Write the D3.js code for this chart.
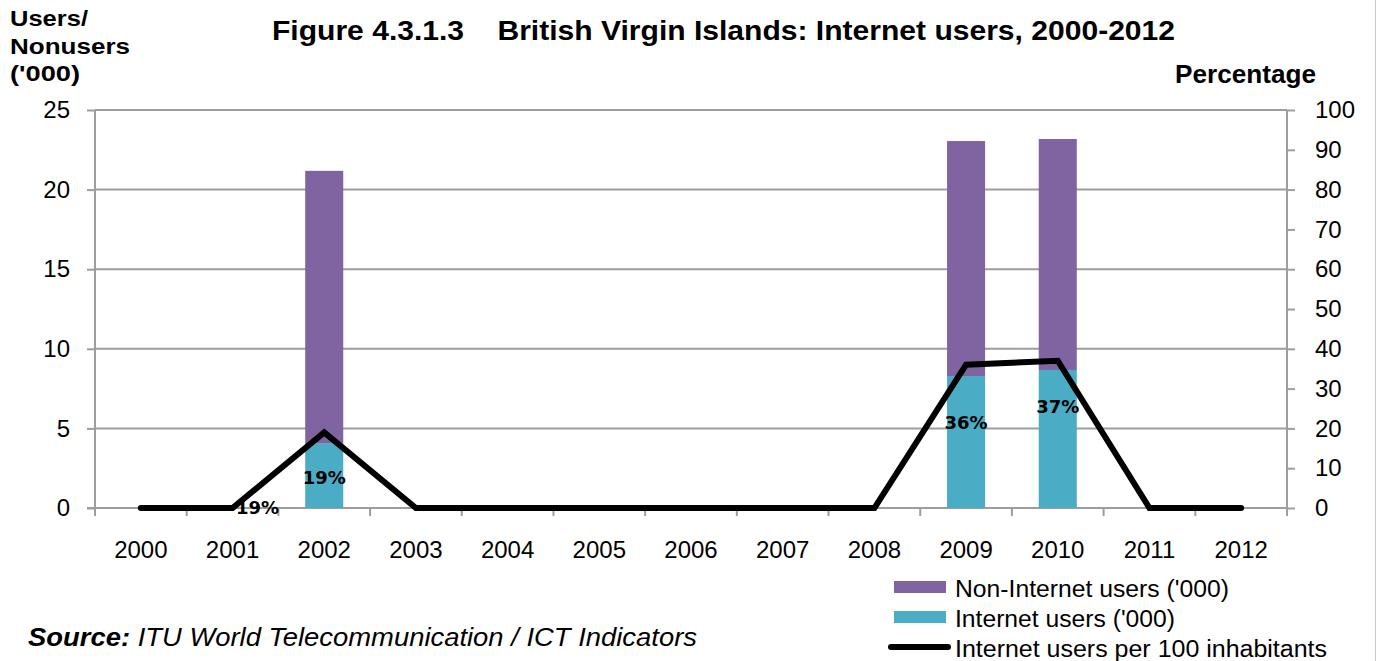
<!DOCTYPE html>
<html>
<head>
<meta charset="utf-8">
<script src="https://cdn.jsdelivr.net/npm/d3@7"></script>
<style>
  html, body { margin: 0; padding: 0; background: #fff; }
  svg { display: block; }
  text { font-family: "Liberation Sans", Arial, sans-serif; fill: #000; }
</style>
</head>
<body>
<svg id="chart" width="1377" height="661"></svg>
<script>
// ---- data ----
const years = ["2000","2001","2002","2003","2004","2005","2006","2007","2008","2009","2010","2011","2012"];
const internetUsers = [null, null, 4.08, null, null, null, null, null, null, 8.29, 8.67, null, null];
const nonInternetUsers = [null, null, 17.1, null, null, null, null, null, null, 14.76, 14.51, null, null];
const usersPer100 = [0, 0, 19, 0, 0, 0, 0, 0, 0, 36, 37, 0, 0];
const leftTicks = [0, 5, 10, 15, 20, 25];
const rightTicks = [0, 10, 20, 30, 40, 50, 60, 70, 80, 90, 100];
// data labels: year, text, vertical anchor (in '000 units)
const labelYears = ["2001", "2002", "2009", "2010"];
const labelTexts = ["19%", "19%", "36%", "37%"];
const labelAt = [0, 1.9, 5.35, 6.35];

const titleText = "Figure 4.3.1.3    British Virgin Islands: Internet users, 2000-2012";
const leftTitleLines = ["Users/", "Nonusers", "('000)"];
const legendLabels = ["Non-Internet users ('000)", "Internet users ('000)", "Internet users per 100 inhabitants"];
const colors = { non: "#8064A2", internet: "#4BACC6", line: "#000", grid: "#9d9d9d" };

// ---- layout ----
const svg = d3.select("#chart");
const plot = { left: 95, right: 1287, top: 110, bottom: 508 };

const x = d3.scaleBand().domain(years).range([plot.left, plot.right]).padding(0);
const barW = x.bandwidth() * 0.415;
const yL = d3.scaleLinear().domain([0, 25]).range([plot.bottom, plot.top]);
const yR = d3.scaleLinear().domain([0, 100]).range([plot.bottom, plot.top]);
const cx = d => x(d) + x.bandwidth() / 2;

// gridlines
svg.append("g").selectAll("line").data(leftTicks.filter(t => t > 0)).join("line")
  .attr("x1", plot.left).attr("x2", plot.right)
  .attr("y1", d => yL(d)).attr("y2", d => yL(d))
  .attr("stroke", colors.grid).attr("stroke-width", 2);

// left axis
const gL = svg.append("g").attr("transform", `translate(${plot.left},0)`)
  .call(d3.axisLeft(yL).tickValues(leftTicks).tickSize(8).tickPadding(17).tickFormat(d3.format("d")));
gL.select(".domain").attr("stroke", colors.grid).attr("stroke-width", 2).attr("d", `M0,${plot.top}V${plot.bottom}`);
gL.selectAll(".tick line").attr("stroke", colors.grid).attr("stroke-width", 2);
gL.selectAll(".tick text").attr("font-size", 24).attr("font-family", "Liberation Sans, Arial, sans-serif").attr("fill", "#000");

// right axis
const gR = svg.append("g").attr("transform", `translate(${plot.right},0)`)
  .call(d3.axisRight(yR).tickValues(rightTicks).tickSize(8).tickPadding(20).tickFormat(d3.format("d")));
gR.select(".domain").attr("stroke", colors.grid).attr("stroke-width", 2).attr("d", `M0,${plot.top}V${plot.bottom}`);
gR.selectAll(".tick line").attr("stroke", colors.grid).attr("stroke-width", 2);
gR.selectAll(".tick text").attr("font-size", 24).attr("font-family", "Liberation Sans, Arial, sans-serif").attr("fill", "#000");

// bottom axis
const gB = svg.append("g").attr("transform", `translate(0,${plot.bottom})`)
  .call(d3.axisBottom(x).tickSize(0).tickPadding(33));
gB.select(".domain").remove();
gB.selectAll(".tick text").attr("font-size", 24).attr("font-family", "Liberation Sans, Arial, sans-serif").attr("fill", "#000");
svg.append("line").attr("x1", plot.left - 8).attr("x2", plot.right)
  .attr("y1", plot.bottom).attr("y2", plot.bottom)
  .attr("stroke", colors.grid).attr("stroke-width", 2);
svg.append("g").selectAll("line").data(years.concat(["end"])).join("line")
  .attr("x1", (d, i) => plot.left + i * x.step()).attr("x2", (d, i) => plot.left + i * x.step())
  .attr("y1", plot.bottom).attr("y2", plot.bottom + 8)
  .attr("stroke", colors.grid).attr("stroke-width", 2);

// bars
const barData = years.map((yr, i) => ({ yr, inet: internetUsers[i], non: nonInternetUsers[i] })).filter(d => d.inet != null);
svg.append("g").selectAll("rect.inet").data(barData).join("rect")
  .attr("x", d => cx(d.yr) - barW / 2).attr("width", barW)
  .attr("y", d => yL(d.inet)).attr("height", d => yL(0) - yL(d.inet))
  .attr("fill", colors.internet);
svg.append("g").selectAll("rect.non").data(barData).join("rect")
  .attr("x", d => cx(d.yr) - barW / 2).attr("width", barW)
  .attr("y", d => yL(d.inet + d.non)).attr("height", d => yL(d.inet) - yL(d.inet + d.non))
  .attr("fill", colors.non);

// line
const line = d3.line().x((d, i) => cx(years[i])).y(d => yR(d));
svg.append("path").datum(usersPer100).attr("d", line)
  .attr("fill", "none").attr("stroke", colors.line).attr("stroke-width", 6)
  .attr("stroke-linejoin", "miter").attr("stroke-linecap", "round");

// data labels
svg.append("g").selectAll("text").data(labelYears).join("text")
  .attr("x", (d, i) => cx(d) + (i === 0 ? 25 : 0))
  .attr("y", (d, i) => yL(labelAt[i]))
  .attr("dy", "0.36em")
  .attr("text-anchor", "middle")
  .style("font-family", "'DejaVu Sans', sans-serif").attr("font-weight", "bold").attr("font-size", 18)
  .text((d, i) => labelTexts[i]);

// titles
svg.append("text").attr("x", 272).attr("y", 40).attr("font-size", 27).attr("font-weight", "bold")
  .attr("textLength", 903).attr("lengthAdjust", "spacingAndGlyphs")
  .style("white-space", "pre").text(titleText);
const leftTitleWidths = [78, 120, 70];
svg.append("g").selectAll("text").data(leftTitleLines).join("text")
  .attr("x", 10).attr("y", (d, i) => 26 + i * 27.5)
  .attr("font-size", 22).attr("font-weight", "bold")
  .attr("textLength", (d, i) => leftTitleWidths[i]).attr("lengthAdjust", "spacingAndGlyphs")
  .text(d => d);
svg.append("text").attr("x", 1316).attr("y", 83).attr("font-size", 25).attr("font-weight", "bold").attr("text-anchor", "end")
  .attr("textLength", 141).attr("lengthAdjust", "spacingAndGlyphs").text("Percentage");

// source
const src = svg.append("text").attr("x", 28).attr("y", 646).attr("font-size", 25).attr("font-style", "italic")
  .attr("textLength", 669).attr("lengthAdjust", "spacingAndGlyphs");
src.append("tspan").attr("font-weight", "bold").text("Source:");
src.append("tspan").text(" ITU World Telecommunication / ICT Indicators");

// legend
const legendWidths = [274, 220, 372];
const lg = svg.append("g");
lg.append("rect").attr("x", 894).attr("y", 581).attr("width", 52).attr("height", 12).attr("fill", colors.non);
lg.append("rect").attr("x", 894).attr("y", 611).attr("width", 52).attr("height", 12).attr("fill", colors.internet);
lg.append("line").attr("x1", 891).attr("x2", 948).attr("y1", 647).attr("y2", 647)
  .attr("stroke", colors.line).attr("stroke-width", 6).attr("stroke-linecap", "round");
lg.selectAll("text").data(legendLabels).join("text")
  .attr("x", 955).attr("y", (d, i) => 597 + i * 30).attr("font-size", 23)
  .attr("textLength", (d, i) => legendWidths[i]).attr("lengthAdjust", "spacingAndGlyphs")
  .text(d => d);

// right border
svg.append("line").attr("x1", 1375.5).attr("x2", 1375.5).attr("y1", 0).attr("y2", 661)
  .attr("stroke", "#c8c8c8").attr("stroke-width", 1);
</script>
</body>
</html>
